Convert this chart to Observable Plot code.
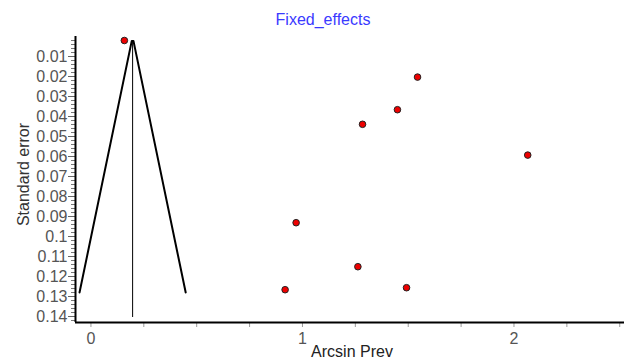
<!DOCTYPE html>
<html>
<head>
<meta charset="utf-8">
<script src="https://cdn.jsdelivr.net/npm/d3@7"></script>
<script src="https://cdn.jsdelivr.net/npm/@observablehq/plot@0.6"></script>
<style>
  html, body { margin: 0; padding: 0; background: #fff; }
  #chart svg { display: block; }
</style>
</head>
<body>
<div id="chart"></div>
<script>
// Study estimates (Arcsin Prev) and their standard errors
const studyX  = [0.158, 1.544, 1.449, 1.284, 2.065, 0.970, 0.918, 1.262, 1.492];
const studySE = [0.002, 0.0203, 0.0366, 0.0439, 0.0593, 0.0931, 0.1266, 0.1151, 0.1256];

// Pooled (fixed effects) estimate and funnel outline
const pooled = 0.197;
const funnelX  = [-0.054, 0.193, 0.201, 0.448];
const funnelSE = [0.128, 0.0022, 0.0022, 0.128];
const pooledSE = [0.0022, 0.1405];

// Axes
const xDomain = [-0.073, 2.5225];
const yDomain = [0, 0.143];
const xMajor = [0, 1, 2];
const xMajorLabels = ["0", "1", "2"];
const xMinor = [0.25, 0.5, 0.75, 1.25, 1.5, 1.75, 2.25, 2.5];
const yMajor = [0.01, 0.02, 0.03, 0.04, 0.05, 0.06, 0.07, 0.08, 0.09, 0.10, 0.11, 0.12, 0.13, 0.14];
const yMajorLabels = ["0.01","0.02","0.03","0.04","0.05","0.06","0.07","0.08","0.09","0.1","0.11","0.12","0.13","0.14"];
const yMinor = d3.range(1, 72).map(i => i * 0.002).filter(v => Math.abs(v * 100 - Math.round(v * 100)) > 1e-6);

const title = "Fixed_effects";
const xLabel = "Arcsin Prev";
const yLabel = "Standard error";

const points = studyX.map((x, i) => ({x, se: studySE[i]}));
const funnel = funnelX.map((x, i) => ({x, se: funnelSE[i]}));

const chart = Plot.plot({
  width: 624,
  height: 364,
  marginLeft: 75,
  marginRight: 0,
  marginTop: 36,
  marginBottom: 42,
  style: {fontFamily: "'Liberation Sans', Arial, sans-serif", fontSize: "16px", background: "#fff"},
  x: {domain: xDomain},
  y: {domain: yDomain, reverse: true},
  marks: [
    // minor ticks
    Plot.axisY({ticks: yMinor, tickSize: 4, tickFormat: () => "", label: null, stroke: "#777"}),
    Plot.axisX({ticks: xMinor, tickSize: 5, tickFormat: () => "", label: null, stroke: "#999"}),
    // major ticks
    Plot.axisY({ticks: yMajor, tickSize: 7, tickPadding: 1, tickFormat: d => yMajorLabels[yMajor.indexOf(d)],
                label: null, stroke: "#666", fill: "#555", fontSize: 16}),
    Plot.axisX({ticks: xMajor, tickSize: 5, tickPadding: 5, tickFormat: d => xMajorLabels[xMajor.indexOf(d)],
                label: null, stroke: "#999", fill: "#555", fontSize: 16}),
    // axis lines
    Plot.ruleX([xDomain[0]], {stroke: "#000", strokeWidth: 2}),
    Plot.ruleY([yDomain[1]], {stroke: "#000", strokeWidth: 2}),
    // funnel
    Plot.line(funnel, {x: "x", y: "se", stroke: "#000", strokeWidth: 2}),
    Plot.ruleX([pooled], {y1: pooledSE[0], y2: pooledSE[1], stroke: "#000", strokeWidth: 1}),
    // studies
    Plot.dot(points, {x: "x", y: "se", r: 3.3, fill: "#ee0000", stroke: "#222", strokeWidth: 1}),
    // labels
    Plot.text([title], {frameAnchor: "top", lineAnchor: "middle", textAnchor: "middle", dx: -27, dy: -17, fill: "#3a3aff", fontSize: 16}),
    Plot.text([yLabel], {frameAnchor: "left", textAnchor: "middle", lineAnchor: "middle", rotate: -90, dx: -52, dy: -5, fill: "#333", fontSize: 16}),
    Plot.text([xLabel], {frameAnchor: "bottom", textAnchor: "middle", lineAnchor: "middle", dx: 2, dy: 29, fill: "#222", fontSize: 16})
  ]
});
document.getElementById("chart").append(chart);
</script>
</body>
</html>
